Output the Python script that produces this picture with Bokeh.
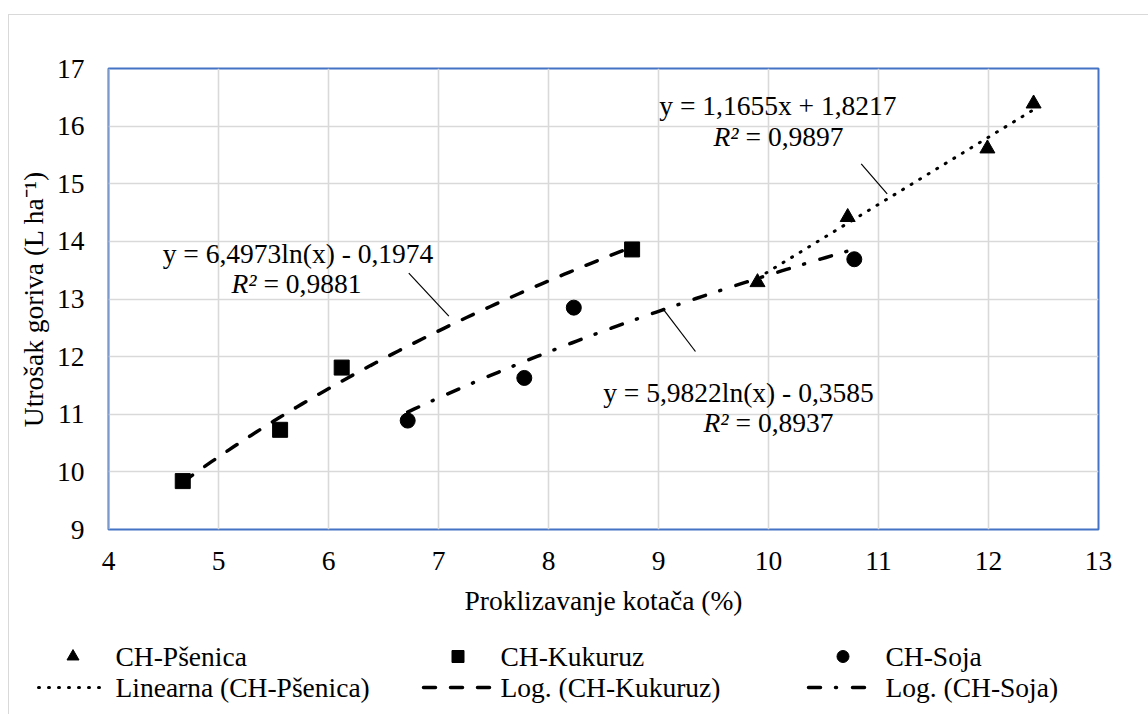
import numpy as np
from bokeh.plotting import figure
from bokeh.layouts import column
from bokeh.models import Label, Range1d, FixedTicker, ColumnDataSource, Span
from bokeh.core.properties import value
from bokeh.embed import file_html
from bokeh.resources import INLINE

# ---------------- data ----------------
x_ticks = [4, 5, 6, 7, 8, 9, 10, 11, 12, 13]
y_ticks = [9, 10, 11, 12, 13, 14, 15, 16, 17]

psenica_x = [9.90, 10.72, 11.99, 12.41]
psenica_y = [13.29, 14.42, 15.61, 16.39]

kukuruz_x = [4.675, 5.56, 6.12, 8.76]
kukuruz_y = [9.84, 10.73, 11.81, 13.86]

soja_x = [6.72, 7.78, 8.23, 10.78]
soja_y = [10.89, 11.63, 12.85, 13.69]

# trendline coefficients (as printed on the chart)
lin_psenica = (1.1655, 1.8217)
log_kukuruz = (6.4973, -0.1974)
log_soja = (5.9822, -0.3585)

eq_texts = ["y = 1,1655x + 1,8217", "y = 6,4973ln(x) - 0,1974", "y = 5,9822ln(x) - 0,3585"]
r2_texts = ["= 0,9897", "= 0,9881", "= 0,8937"]

marker_labels = ["CH-Pšenica", "CH-Kukuruz", "CH-Soja"]
line_labels = ["Linearna (CH-Pšenica)", "Log. (CH-Kukuruz)", "Log. (CH-Soja)"]

# ---------------- style ----------------
FONT = "Liberation Serif"
FS = "27.5px"
GRID = "#d9d9d9"
BLUE = "#4472c4"

OX, OY = 9, 15          # page offset of the content (after outer border)
W = 1139
H_MAIN = 610
H_LEG = 89

marker_style = ["triangle", "square", "circle"]
line_style = [dict(line_width=3, line_dash="1 9"),
              dict(line_width=3.5, line_dash="12 15"),
              dict(line_width=3.5, line_dash="12 15 1 16")]

p = figure(width=W, height=H_MAIN, output_backend="svg", toolbar_location=None,
           x_range=Range1d(4, 13), y_range=Range1d(9, 17),
           min_border_left=108 - OX, min_border_right=OX + W - 1098,
           min_border_top=68 - OY, min_border_bottom=OY + H_MAIN - 529)
p.frame_align = False
p.background_fill_color = "white"
p.border_fill_color = "white"
p.outline_line_color = BLUE
p.outline_line_width = 2

for ax in (p.xaxis[0], p.yaxis[0]):
    ax.axis_line_color = None
    ax.major_tick_line_color = None
    ax.minor_tick_line_color = None
    ax.major_tick_out = 0
    ax.major_tick_in = 0
    ax.major_label_text_font = FONT
    ax.major_label_text_font_size = FS
    ax.major_label_text_color = "black"
    ax.axis_label_text_font = FONT
    ax.axis_label_text_font_size = FS
    ax.axis_label_text_font_style = "normal"
    ax.axis_label_text_color = "black"

p.xaxis.ticker = FixedTicker(ticks=x_ticks)
p.yaxis.ticker = FixedTicker(ticks=y_ticks)
p.xaxis.major_label_standoff = 22
p.yaxis.major_label_standoff = 24
p.xaxis.axis_label = "Proklizavanje kotača (%)"
p.yaxis.axis_label = "Utrošak goriva (L ha⁻¹)"
p.xaxis.axis_label_standoff = 12
p.yaxis.axis_label_standoff = 5

p.xgrid.ticker = FixedTicker(ticks=x_ticks)
p.ygrid.ticker = FixedTicker(ticks=y_ticks)
p.grid.grid_line_color = GRID
p.grid.grid_line_width = 1.6

# left edge of the plot area is grey-blue in the original
p.add_layout(Span(location=x_ticks[0], dimension="height", line_color="#b4bfd6",
                  line_width=2.5))

# ---------------- trendlines ----------------
xl = np.array([min(psenica_x), max(psenica_x)])
p.line(xl, lin_psenica[0] * xl + lin_psenica[1], line_color="black",
       line_cap="round", **line_style[0])

xk = np.linspace(min(kukuruz_x), max(kukuruz_x), 80)
p.line(xk, log_kukuruz[0] * np.log(xk) + log_kukuruz[1], line_color="black",
       line_cap="round", **line_style[1])

xs = np.linspace(min(soja_x), max(soja_x), 80)
p.line(xs, log_soja[0] * np.log(xs) + log_soja[1], line_color="black",
       line_cap="round", **line_style[2])

# ---------------- markers ----------------
for mk, xx, yy in zip(marker_style, [psenica_x, kukuruz_x, soja_x],
                      [psenica_y, kukuruz_y, soja_y]):
    p.scatter(xx, yy, marker=mk, size=15, fill_color="black", line_color="black")

# ---------------- equation annotations ----------------
eq_pos = [(10.086, 16.358), (5.723, 13.790), (9.727, 11.383)]
r2_pos = [(10.091, 15.820), (5.709, 13.269), (10.0, 10.857)]
for t, (x, y) in zip(eq_texts, eq_pos):
    p.add_layout(Label(x=x, y=y, text=t, text_align="center", text_baseline="middle",
                       text_font=FONT, text_font_size=FS, text_color="black"))
for t, (x, y) in zip(r2_texts, r2_pos):
    p.add_layout(Label(x=x, y=y, x_offset=-40, text="R²", text_align="right",
                       text_baseline="middle", text_font=FONT, text_font_size=FS,
                       text_font_style="italic", text_color="black"))
    p.add_layout(Label(x=x, y=y, x_offset=-33, text=t, text_align="left",
                       text_baseline="middle", text_font=FONT, text_font_size=FS,
                       text_color="black"))

leaders = dict(x0=[10.843, 6.730, 9.048], y0=[15.346, 13.448, 12.813],
               x1=[11.079, 7.094, 9.336], y1=[14.826, 12.702, 12.089])
p.segment(x0="x0", y0="y0", x1="x1", y1="y1", source=ColumnDataSource(leaders),
          line_color="black", line_width=1.2)

# ---------------- legend (separate strip, pixel coordinates) ----------------
top = OY + H_MAIN
lg = figure(width=W, height=H_LEG, output_backend="svg", toolbar_location=None,
            x_range=Range1d(OX, OX + W), y_range=Range1d(top + H_LEG, top),
            min_border=0, min_border_left=0, min_border_right=0,
            min_border_top=0, min_border_bottom=0,
            x_axis_type=None, y_axis_type=None)
lg.frame_align = False
lg.outline_line_color = None
lg.grid.visible = False
lg.background_fill_color = "white"
lg.border_fill_color = "white"

col_x0 = [38, 423, 808]
KEY_W = 69
row1_y, row2_y = 656, 687
for i in range(3):
    x0 = col_x0[i]
    lg.scatter([x0 + KEY_W / 2], [row1_y], marker=marker_style[i], size=12,
               fill_color="black", line_color="black")
    lg.line([x0, x0 + KEY_W], [row2_y, row2_y], line_color="black",
            line_cap="round", **line_style[i])
    lg.text([x0 + KEY_W + 8], [row1_y], text=[marker_labels[i]],
            text_font=value(FONT), text_font_size=FS, text_align="left",
            text_baseline="middle", text_color="black")
    lg.text([x0 + KEY_W + 8], [row2_y], text=[line_labels[i]],
            text_font=value(FONT), text_font_size=FS, text_align="left",
            text_baseline="middle", text_color="black")

layout = column(p, lg, spacing=0,
                styles={"margin-left": "8px", "margin-top": "14px",
                        "border-left": "1px solid #d9d9d9",
                        "border-top": "1px solid #d9d9d9"})

open("out.html", "w").write(file_html(layout, INLINE))
